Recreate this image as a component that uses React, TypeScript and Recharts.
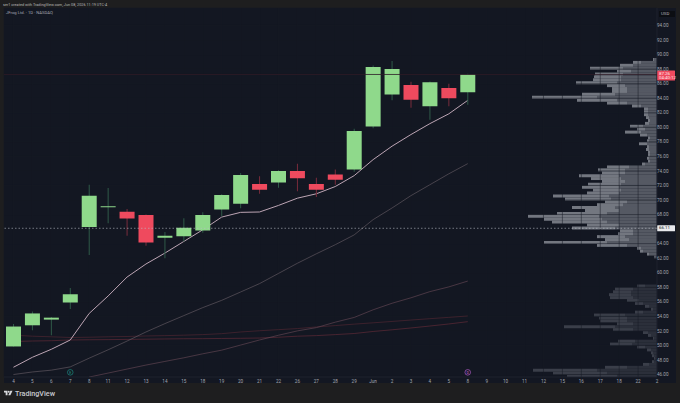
import {
  ComposedChart, BarChart, Bar, Line, XAxis, YAxis, Cell,
  ReferenceLine, ReferenceDot, CartesianGrid,
} from 'recharts'

const dayLabels = ['4','5','6','7','8','11','12','13','14','15','18','19','20','21','22','26','27','28','29','Jun','2','3','4','5','8','9','10','11','12','15','16','17','18','22','2']
const opens = [49.86,52.77,53.55,55.9,66.27,69,68.4,67.95,64.8,65,65.8,68.7,69.5,72.2,72.4,74,72.2,73.5,74.2,80.1,84.5,85.8,82.9,85.4,84.8]
const closes = [52.6,54.4,53.82,57.04,70.6,69.15,67.45,64.15,65.1,66.2,67.95,70.7,73.43,71.4,74,73,71.4,72.8,79.5,88.3,88,83.8,86.2,84,87.26]
const highs = [52.95,54.65,53.9,57.9,72.1,71.65,68.75,68,65.6,67.5,68.3,70.8,73.7,73.25,74.1,75,73.06,74.2,79.8,88.5,89.1,86.25,86.3,86,87.35]
const lows = [49.86,52.1,51.4,55,62.45,66.8,65.1,63.7,62,64.3,65.5,67.75,68.85,70.85,71.7,71.2,70.4,72.1,73.9,79.85,83.7,82.7,81.05,82.9,83.1]

const ma20 = [47,48.37,49.47,50.75,54.4,56.8,59.4,61.2,62.7,64.3,65.9,67.65,68.3,68.35,69.25,70.25,70.85,71.85,73.35,75.55,77.4,79,80.5,81.85,83.7]
const ma50 = [46,46.35,46.6,47.05,48.25,49.4,50.6,51.85,53,54.1,55.2,56.2,57.35,58.5,59.9,61.3,62.6,63.85,65.2,67.3,68.9,70.6,72.1,73.6,75]
const ma100 = [null,null,null,null,45.65,46.2,46.75,47.3,47.8,48.3,48.85,49.35,50.05,50.75,51.4,52,52.45,53.2,53.85,54.9,55.8,56.55,57.4,58.05,58.85]
const ma150 = [51.41,51.27,51.19,51.09,51.13,51.19,51.23,51.3,51.35,51.41,51.49,51.62,51.85,52.02,52.17,52.32,52.54,52.73,52.93,53.11,53.3,53.49,53.68,53.86,54.05]
const ma200 = [50.54,50.61,50.65,50.75,50.78,50.8,50.83,50.86,50.89,50.92,50.93,50.96,50.98,51.02,51.13,51.27,51.35,51.49,51.64,51.92,52.15,52.4,52.67,52.95,53.27]

const priceTicks = [46,48,50,52,54,56,58,60,62,64,68,70,72,74,76,78,80,82,84,86,88,90,92,94]

const profilePrices = [45.8,46.2,46.6,47,47.4,47.8,48.2,48.6,49,49.4,49.8,50.2,50.6,51,51.4,51.8,52.2,52.6,53,53.4,53.8,54.2,54.6,55,55.4,55.8,56.2,56.6,57,57.4,57.8,58.2,
  58.6,59,59.4,59.8,60.2,60.6,61,61.4,61.8,
  62.2,62.6,63,63.4,63.8,64.2,64.6,65,65.4,65.8,66.2,66.6,67,67.4,67.8,68.2,68.6,69,69.4,69.8,70.2,70.6,71,71.4,71.8,72.2,72.6,73,73.4,73.8,74.2,74.6,75,75.4,75.8,76.2,76.6,77,77.4,77.8,78.2,78.6,79,79.4,79.8,80.2,80.6,81,81.4,81.8,82.2,82.6,83,83.4,83.8,84.2,84.6,85,85.4,85.8,86.2,86.6,87,87.4,87.8,88.2,88.6,89,89.4]
const profileTotal = [90,104,124,52,14,5,3,5,6,10,20,47,39,4,9,14,44,93,40,57,58,63,22,6,12,22,30,47,48,44,42,20,
  0,0,0,0,0,0,0,0,0,
  3,10,17,20,60,113,52,60,39,37,85,70,105,113,129,100,72,85,60,52,92,104,70,64,75,69,55,66,78,55,59,50,15,9,10,9,9,11,10,18,10,9,17,32,20,27,12,9,11,13,13,13,25,50,80,125,75,45,45,50,81,64,63,62,40,67,37,24,4]
const profileInner = [40,50,60,30,8,3,2,3,4,6,12,25,22,3,6,9,24,42,24,30,30,32,14,4,8,14,18,24,26,26,24,12,
  0,0,0,0,0,0,0,0,0,
  3,8,14,16,30,50,28,32,24,24,42,38,50,55,58,50,38,42,34,30,46,48,38,36,38,36,32,36,38,32,32,28,12,7,8,7,7,8,8,10,8,7,10,16,12,14,8,7,8,9,9,9,16,30,40,60,42,30,30,32,40,36,36,34,26,34,24,16,3]

const candleRows = dayLabels.map((_, i) => ({
  i,
  body: i < opens.length ? [Math.min(opens[i], closes[i]), Math.max(opens[i], closes[i])] : null,
  wick: i < opens.length ? [lows[i], highs[i]] : null,
  ma20: ma20[i] ?? null,
  ma50: ma50[i] ?? null,
  ma100: ma100[i] ?? null,
  ma150: ma150[i] ?? null,
  ma200: ma200[i] ?? null,
}))

const profileRows = profilePrices.map((price, i) => ({
  price,
  inner: profileInner[i],
  outer: profileTotal[i] - profileInner[i],
}))

const GREEN = '#8fd98b'
const RED = '#ef4a5e'
const isUp = (i: number) => closes[i] >= opens[i]

const PriceTag = ({ viewBox, bg, color, lines }: any) => {
  const y = viewBox.y
  const h = lines.length > 1 ? 10 : 6
  return (
    <g>
      <rect x={657} y={y - (lines.length > 1 ? 4 : 3)} width={18} height={h} fill={bg} rx={0.5} />
      {lines.map((t: string, k: number) => (
        <text key={k} x={659} y={y + 0.6 + k * 4} fontSize={4.4} fill={color} fontFamily="Roboto">{t}</text>
      ))}
    </g>
  )
}

const EventDot = ({ cx, cy, color, letter }: any) => (
  <g>
    <circle cx={cx} cy={cy} r={2.8} fill="#131722" stroke={color} strokeWidth={0.6} />
    <text x={cx} y={cy + 1.3} textAnchor="middle" fontSize={3.6} fill={color} fontFamily="Roboto">{letter}</text>
  </g>
)

export default function App() {
  return (
    <div style={{ position: 'absolute', left: 0, top: 0, width: 680, height: 403, background: '#1e1e1f', overflow: 'hidden', fontFamily: 'Roboto, sans-serif' }}>
      <div style={{ position: 'absolute', left: 4, top: 8, width: 672, height: 375, background: '#131722' }} />
      <div style={{ position: 'absolute', left: 3, top: 1.5, fontSize: 3.8, lineHeight: '6px', color: '#b8b8b8', whiteSpace: 'nowrap' }}>
        ser1 created with TradingView.com, Jun 08, 2026 11:19 UTC-4
      </div>

      {/* volume profile sits behind the candles, one band per row */}
      <div style={{ position: 'absolute', left: 4, top: 57.94 }}>
        <BarChart width={653} height={319.44} data={profileRows} layout="vertical" barCategoryGap={0} margin={{ top: 0, right: 0, bottom: 0, left: 0 }}>
          <XAxis type="number" hide reversed domain={[0, 653]} />
          <YAxis type="category" dataKey="price" hide reversed width={0} />
          <Bar dataKey="inner" stackId="vp" isAnimationActive={false}>
            {profileRows.map((r) => <Cell key={r.price} fill={r.price < 60 ? '#2b2f3a' : '#555963'} />)}
          </Bar>
          <Bar dataKey="outer" stackId="vp" isAnimationActive={false}>
            {profileRows.map((r) => <Cell key={r.price} fill={r.price < 60 ? '#3a3e49' : '#737780'} />)}
          </Bar>
        </BarChart>
      </div>

      <div style={{ position: 'absolute', left: 0, top: 0 }}>
        <ComposedChart width={680} height={403} data={candleRows} barGap={0} margin={{ top: 8, right: 4, bottom: 20, left: 4 }}>
          <CartesianGrid stroke="#161a25" strokeWidth={0.5} />
          <XAxis
            dataKey="i"
            type="category"
            interval={0}
            height={6}
            padding={{ left: 0, right: -9.5 }}
            tickFormatter={(i) => dayLabels[i]}
            tick={{ fill: '#a4a7af', fontSize: 4.6, fontFamily: 'Roboto', dy: 0.5 }}
            tickLine={false}
            tickSize={0}
            axisLine={{ stroke: '#2a2e39', strokeWidth: 0.5 }}
          />
          <XAxis xAxisId="wick" dataKey="i" type="category" hide padding={{ left: 0, right: -9.5 }} />
          <YAxis
            orientation="right"
            type="number"
            domain={[45.66, 96.4]}
            ticks={priceTicks}
            interval={0}
            allowDataOverflow
            width={19}
            tickFormatter={(v) => v.toFixed(2)}
            tick={{ fill: '#a4a7af', fontSize: 4.6, fontFamily: 'Roboto', dx: -2 }}
            tickLine={false}
            tickSize={0}
            axisLine={{ stroke: '#2a2e39', strokeWidth: 0.5 }}
          />

          <ReferenceLine y={87.26} stroke="#2f1a26" strokeWidth={0.8}
            label={(p: any) => <PriceTag {...p} bg={RED} color="#ffe4e8" lines={['87.26', '04:40:12']} />} />
          <ReferenceLine y={66.11} stroke="#b9bcc4" strokeWidth={0.6} strokeDasharray="1.5 2"
            label={(p: any) => <PriceTag {...p} bg="#e8e9ec" color="#131722" lines={['66.11']} />} />

          {/* thin averages stay under the candles */}
          <Line dataKey="ma200" stroke="#5e2a37" strokeWidth={0.7} dot={false} isAnimationActive={false} zIndex={100} />
          <Line dataKey="ma150" stroke="#4e2530" strokeWidth={0.7} dot={false} isAnimationActive={false} zIndex={100} />
          <Line dataKey="ma100" stroke="#5f4350" strokeWidth={0.7} dot={false} isAnimationActive={false} zIndex={100} />
          <Line dataKey="ma50" stroke="#5f565f" strokeWidth={0.7} dot={false} isAnimationActive={false} zIndex={100} />

          <Bar xAxisId="wick" dataKey="wick" barSize={1} isAnimationActive={false}>
            {candleRows.map((r) => <Cell key={r.i} fill={r.i < opens.length && isUp(r.i) ? '#2f5a48' : '#7a2c3c'} />)}
          </Bar>
          <Bar dataKey="body" barSize={15} isAnimationActive={false}>
            {candleRows.map((r) => <Cell key={r.i} fill={r.i < opens.length && isUp(r.i) ? GREEN : RED} />)}
          </Bar>
          <Line dataKey="ma20" stroke="#bda5b4" strokeWidth={1} dot={false} isAnimationActive={false} zIndex={100} />

          <ReferenceDot x={3} y={46.3} r={3} shape={(p: any) => <EventDot {...p} color="#1f9c8e" letter="E" />} />
          <ReferenceDot x={24} y={46.3} r={3} shape={(p: any) => <EventDot {...p} color="#c765dd" letter="D" />} />
        </ComposedChart>
      </div>

      <div style={{ position: 'absolute', left: 6, top: 9.5, fontSize: 4.2, lineHeight: '6px', color: '#a4a7af', whiteSpace: 'nowrap' }}>
        JFrog Ltd. · 1D · NASDAQ
      </div>
      <div style={{ position: 'absolute', left: 659, top: 11, width: 16, height: 6, background: '#0c0e13', color: '#b2b5be', fontSize: 4.4, lineHeight: '6px', paddingLeft: 2, boxSizing: 'border-box' }}>
        USD
      </div>

      {/* footer mark */}
      <svg width={8.5} height={6} viewBox="0 0 36 20" style={{ position: 'absolute', left: 4, top: 389.5 }}>
        <path d="M0 0h15v20H7V8H0z" fill="#d8d9dc" />
        <circle cx={20} cy={4.5} r={4} fill="#d8d9dc" />
        <path d="M27 0h9l-9 20h-9z" fill="#d8d9dc" />
      </svg>
      <div style={{ position: 'absolute', left: 15, top: 389, fontSize: 7.2, lineHeight: '10px', fontWeight: 500, color: '#c9cbd0', whiteSpace: 'nowrap' }}>
        TradingView
      </div>
    </div>
  )
}
